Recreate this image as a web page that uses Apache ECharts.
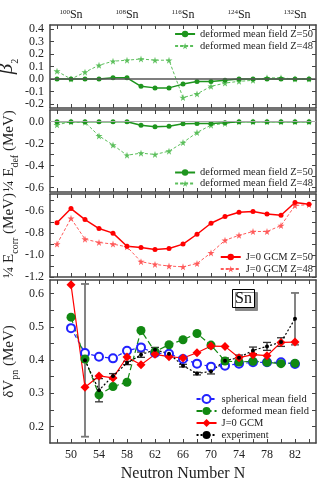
<!DOCTYPE html>
<html>
<head>
<meta charset="utf-8">
<script src="https://cdn.jsdelivr.net/npm/echarts@6/dist/echarts.min.js"></script>
<style>
  html, body { margin: 0; padding: 0; background: #fff; }
  #chart { width: 321px; height: 479px; }
</style>
</head>
<body>
<div id="chart"></div>
<script>
// ---- data ----
const neutrons = [48, 50, 52, 54, 56, 58, 60, 62, 64, 66, 68, 70, 72, 74, 76, 78, 80, 82, 84];
const beta2Z50 = [0, 0, 0, 0, 0.01, 0.01, -0.058, -0.07, -0.07, -0.04, -0.02, -0.02, -0.01, 0, 0, 0, 0, 0, 0];
const beta2Z48 = [0.063, 0, 0.055, 0.11, 0.142, 0.15, 0.16, 0.15, 0.15, -0.147, -0.118, -0.058, -0.032, -0.018, -0.01, 0.01, 0.01, 0, 0];
const edefZ50 = [0, 0, 0, 0, 0, 0, -0.031, -0.046, -0.04, -0.018, -0.015, -0.015, -0.01, 0, 0, 0, 0, 0, 0];
const edefZ48 = [-0.028, 0, -0.005, -0.129, -0.212, -0.305, -0.286, -0.298, -0.268, -0.19, -0.098, -0.031, -0.015, 0, 0, 0, 0, 0, 0];
const ecorrZ50 = [-0.706, -0.576, -0.676, -0.758, -0.80, -0.92, -0.93, -0.95, -0.94, -0.90, -0.81, -0.71, -0.649, -0.609, -0.603, -0.625, -0.637, -0.52, -0.536];
const ecorrZ48 = [-0.90, -0.665, -0.855, -0.885, -0.90, -0.925, -1.06, -1.085, -1.10, -1.107, -1.077, -0.98, -0.865, -0.82, -0.785, -0.785, -0.731, -0.548, -0.54];

const vpnN = [50, 52, 54, 56, 58, 60, 62, 64, 66, 68, 70, 72, 74, 76, 78, 80, 82];
const vpnSpherical = [0.496, 0.421, 0.41, 0.405, 0.428, 0.438, 0.421, 0.419, 0.403, 0.389, 0.38, 0.383, 0.389, 0.393, 0.393, 0.393, 0.388];
const vpnDeformed = [0.529, 0.403, 0.295, 0.32, 0.333, 0.489, 0.425, 0.446, 0.461, 0.48, 0.445, 0.397, 0.394, 0.396, 0.393, 0.389, 0.39];
const vpnGcm = [0.627, 0.318, 0.352, 0.346, 0.409, 0.386, 0.417, 0.41, 0.406, 0.422, 0.442, 0.441, 0.407, 0.416, 0.413, 0.453, 0.454];
const expN = [52, 54, 56, 58, 60, 62, 64, 66, 68, 70, 72, 74, 76, 78, 80, 82];
const expVal = [0.399, 0.309, 0.352, 0.391, 0.416, 0.431, 0.419, 0.383, 0.359, 0.366, 0.398, 0.407, 0.429, 0.441, 0.454, 0.524];
const expErr = [0.23, 0.035, 0.007, 0.005, 0.008, 0.007, 0.005, 0.004, 0.004, 0.008, 0.008, 0.008, 0.01, 0.012, 0.013, 0.078];

// ticks / labels
const nTicks = [48, 50, 52, 54, 56, 58, 60, 62, 64, 66, 68, 70, 72, 74, 76, 78, 80, 82, 84];
const nLabels = [50, 54, 58, 62, 66, 70, 74, 78, 82];
const snLabels = [50, 58, 66, 74, 82];
const beta2Ticks = [-0.2, -0.1, 0, 0.1, 0.2, 0.3, 0.4];
const edefTicks = [-0.6, -0.5, -0.4, -0.3, -0.2, -0.1, 0];
const edefLabels = [-0.6, -0.4, -0.2, 0];
const ecorrTicks = [-1.2, -1.1, -1.0, -0.9, -0.8, -0.7, -0.6, -0.5];
const ecorrLabels = [-1.2, -1.0, -0.8, -0.6];
const vpnTicks = [0.2, 0.25, 0.3, 0.35, 0.4, 0.45, 0.5, 0.55, 0.6];
const vpnLabels = [0.2, 0.3, 0.4, 0.5, 0.6];

const FONT = 'Liberation Serif';
const AX = '#444';
const STAR = 'path://M50,0 L61,35 L98,35 L68,57 L79,91 L50,70 L21,91 L32,57 L2,35 L39,35 Z';

const zip = (xs, ys) => xs.map((x, k) => [x, ys[k]]);

const chart = echarts.init(document.getElementById('chart'));

const grids = [
    { left: 50, right: 5, top: 25, height: 83, outerBoundsMode: 'none' },
    { left: 50, right: 5, top: 110, height: 82, outerBoundsMode: 'none' },
    { left: 50, right: 5, top: 194, height: 83, outerBoundsMode: 'none' },
    { left: 50, right: 5, top: 280, height: 163, outerBoundsMode: 'none' }
];
const yRanges = [[-0.23, 0.43], [-0.64, 0.107], [-1.2, -0.443], [0.15, 0.641]];
const yTickSets = [beta2Ticks, edefTicks, ecorrTicks, vpnTicks];
const yLabelSets = [beta2Ticks, edefLabels, ecorrLabels, vpnLabels];

const subRich = {
    n: { fontFamily: FONT, fontSize: 15, color: '#222', padding: [0, 0, 3, 0], verticalAlign: 'bottom' },
    g: { fontFamily: FONT, fontSize: 21, fontStyle: 'italic', color: '#222', padding: [0, 0, 3, 0], verticalAlign: 'bottom' },
    sub: { fontFamily: FONT, fontSize: 10, color: '#222', verticalAlign: 'bottom' }
};
const yNames = [
    '{g|β}{sub|2}',
    '{n|¼ E}{sub|def}{n| (MeV)}',
    '{n|¼ E}{sub|corr}{n| (MeV)}',
    '{n|δV}{sub|pn}{n| (MeV)}'
];

function xAxis(i, pos, extra) {
    return Object.assign({
        type: 'value', gridIndex: i, position: pos, min: 47, max: 85,
        axisLine: { show: true, onZero: false, lineStyle: { color: AX, width: 1.5 } },
        axisTick: { show: true, inside: true, length: 4, customValues: nTicks, lineStyle: { color: AX } },
        axisLabel: { show: false },
        splitLine: { show: false }
    }, extra || {});
}

function yAxis(i, pos) {
    const left = pos === 'left';
    return {
        type: 'value', gridIndex: i, position: pos, min: yRanges[i][0], max: yRanges[i][1],
        axisLine: { show: true, onZero: false, lineStyle: { color: AX, width: 1.5 } },
        axisTick: { show: true, inside: true, length: 4, customValues: yTickSets[i], lineStyle: { color: AX } },
        axisLabel: left ? {
            show: true, customValues: yLabelSets[i], formatter: v => v.toFixed(1),
            fontFamily: FONT, fontSize: 12, color: '#222', margin: 6
        } : { show: false },
        splitLine: { show: false },
        name: left ? yNames[i] : '',
        nameLocation: 'middle', nameRotate: 90, nameGap: 30, nameMoveOverlap: false,
        nameTextStyle: { rich: subRich }
    };
}

const xAxes = [], yAxes = [];
for (let i = 0; i < 4; i++) {
    let bottomExtra = null, topExtra = null;
    if (i === 3) {
        bottomExtra = {
            axisLabel: { show: true, customValues: nLabels, fontFamily: FONT, fontSize: 12, color: '#222', margin: 6 },
            name: 'Neutron Number N', nameLocation: 'middle', nameGap: 23, nameMoveOverlap: false,
            nameTextStyle: { fontFamily: FONT, fontSize: 16, color: '#222' }
        };
    }
    if (i === 0) {
        topExtra = {
            axisLabel: {
                show: true, customValues: snLabels, margin: 4,
                formatter: v => '{s|' + (v + 50) + '}{b|Sn}',
                rich: {
                    s: { fontFamily: FONT, fontSize: 7, color: '#222', padding: [0, 0, 5, 0], verticalAlign: 'bottom' },
                    b: { fontFamily: FONT, fontSize: 12, color: '#222', verticalAlign: 'bottom' }
                }
            }
        };
    }
    xAxes.push(xAxis(i, 'bottom', bottomExtra));
    xAxes.push(xAxis(i, 'top', topExtra));
    yAxes.push(yAxis(i, 'left'));
    yAxes.push(yAxis(i, 'right'));
}

const zeroLine = (color, width) => ({
    silent: true, symbol: 'none', label: { show: false },
    lineStyle: { color: color, width: width, type: 'solid' },
    data: [{ yAxis: 0 }]
});

const greenDark = '#1e951e', greenLight = '#5cbf5c';
const redDark = '#ff0000', redLight = '#ff5a5a';

const series = [
    // panel 1: beta2
    { name: 'deformed mean field Z=48', type: 'line', xAxisIndex: 0, yAxisIndex: 0, data: zip(neutrons, beta2Z48),
      symbol: STAR, symbolSize: 7, color: greenLight, lineStyle: { width: 1, type: [3, 2] },
      markLine: zeroLine('#555', 1.5) },
    { name: 'deformed mean field Z=50', type: 'line', xAxisIndex: 0, yAxisIndex: 0, data: zip(neutrons, beta2Z50),
      symbol: 'circle', symbolSize: 5, color: greenDark, lineStyle: { width: 1.5 } },
    // panel 2: Edef
    { name: 'deformed mean field Z=48', type: 'line', xAxisIndex: 2, yAxisIndex: 2, data: zip(neutrons, edefZ48),
      symbol: STAR, symbolSize: 7, color: greenLight, lineStyle: { width: 1, type: [3, 2] },
      markLine: zeroLine('#aaa', 1) },
    { name: 'deformed mean field Z=50', type: 'line', xAxisIndex: 2, yAxisIndex: 2, data: zip(neutrons, edefZ50),
      symbol: 'circle', symbolSize: 5, color: greenDark, lineStyle: { width: 1.5 } },
    // panel 3: Ecorr
    { name: 'J=0 GCM Z=48', type: 'line', xAxisIndex: 4, yAxisIndex: 4, data: zip(neutrons, ecorrZ48),
      symbol: STAR, symbolSize: 7, color: redLight, lineStyle: { width: 1, type: [3, 2] } },
    { name: 'J=0 GCM Z=50', type: 'line', xAxisIndex: 4, yAxisIndex: 4, data: zip(neutrons, ecorrZ50),
      symbol: 'circle', symbolSize: 5, color: redDark, lineStyle: { width: 1.5 } },
    // panel 4: dVpn
    { name: 'spherical mean field', type: 'line', xAxisIndex: 6, yAxisIndex: 6, data: zip(vpnN, vpnSpherical),
      symbol: 'emptyCircle', symbolSize: 8, color: '#2222ff', itemStyle: { borderWidth: 1.5 },
      lineStyle: { width: 1.2, type: [4, 3] } },
    { name: 'deformed mean field', type: 'line', xAxisIndex: 6, yAxisIndex: 6, data: zip(vpnN, vpnDeformed),
      symbol: 'circle', symbolSize: 9, color: '#118811', lineStyle: { width: 1.2, type: [6, 3] } },
    { name: 'J=0 GCM', type: 'line', xAxisIndex: 6, yAxisIndex: 6, data: zip(vpnN, vpnGcm),
      symbol: 'diamond', symbolSize: 9, color: redDark, lineStyle: { width: 1.2 } },
    { name: 'experiment err', type: 'custom', xAxisIndex: 6, yAxisIndex: 6,
      data: expN.map((n, k) => [n, expVal[k] - expErr[k], expVal[k] + expErr[k]]),
      encode: { x: 0, y: [1, 2] },
      renderItem: (params, api) => {
          const lo = api.coord([api.value(0), api.value(1)]);
          const hi = api.coord([api.value(0), api.value(2)]);
          const big = api.value(2) - api.value(1) > 0.1;
          const st = { stroke: big ? '#777' : '#333', lineWidth: big ? 1.8 : 1.3 };
          const w = 4;
          return { type: 'group', children: [
              { type: 'line', shape: { x1: lo[0], y1: lo[1], x2: hi[0], y2: hi[1] }, style: st },
              { type: 'line', shape: { x1: lo[0] - w, y1: lo[1], x2: lo[0] + w, y2: lo[1] }, style: st },
              { type: 'line', shape: { x1: hi[0] - w, y1: hi[1], x2: hi[0] + w, y2: hi[1] }, style: st }
          ] };
      } },
    { name: 'experiment', type: 'line', xAxisIndex: 6, yAxisIndex: 6, data: zip(expN, expVal),
      symbol: 'circle', symbolSize: 4, color: '#000', lineStyle: { width: 1.2, type: [2, 2] } }
];

const legendBase = {
    orient: 'vertical', right: 8, itemWidth: 20, itemHeight: 8, itemGap: 0, padding: 0,
    align: 'left', textStyle: { fontFamily: FONT, fontSize: 10.5, color: '#222', lineHeight: 12 }
};

const option = {
    backgroundColor: '#fff',
    animation: false,
    title: {
        text: 'Sn', left: 232, top: 289, padding: [2, 3, 1, 3],
        textStyle: { fontFamily: FONT, fontSize: 16, fontWeight: 'normal', color: '#111' },
        backgroundColor: '#fff', borderColor: '#000', borderWidth: 1,
        shadowColor: '#888', shadowOffsetX: 3, shadowOffsetY: 3, shadowBlur: 0
    },
    grid: grids,
    xAxis: xAxes,
    yAxis: yAxes,
    legend: [
        Object.assign({}, legendBase, { top: 28, data: ['deformed mean field Z=50', 'deformed mean field Z=48'] }),
        Object.assign({}, legendBase, { top: 167, data: ['deformed mean field Z=50', 'deformed mean field Z=48'],
            textStyle: { fontFamily: FONT, fontSize: 10.5, color: '#222', lineHeight: 10 } }),
        Object.assign({}, legendBase, { top: 251, data: ['J=0 GCM Z=50', 'J=0 GCM Z=48'] }),
        Object.assign({}, legendBase, { top: 393, right: 12, itemHeight: 10, data: ['spherical mean field', 'deformed mean field', 'J=0 GCM', 'experiment'] })
    ],
    series: series
};

chart.setOption(option);
</script>
</body>
</html>
